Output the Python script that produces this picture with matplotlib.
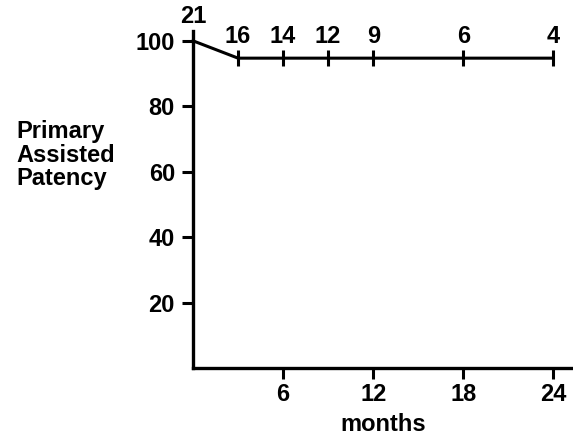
import matplotlib.pyplot as plt

# patency curve (months vs %), number at risk above each point
months = [0, 3, 6, 9, 12, 18, 24]
patency = [100, 94.7, 94.7, 94.7, 94.7, 94.7, 94.7]
at_risk = [21, 16, 14, 12, 9, 6, 4]

xticks = [6, 12, 18, 24]
yticks = [20, 40, 60, 80, 100]

plt.rcParams['font.family'] = ['Liberation Sans', 'DejaVu Sans']
plt.rcParams['font.weight'] = 'bold'
FS = 17

fig = plt.figure(figsize=(5.73, 4.40), dpi=100)
ax = fig.add_axes([193/573, 72/440, 380/573, 337/440])

ax.plot(months, patency, color='black', lw=2.2, clip_on=False)
ax.plot(months[1:], patency[1:], ls='none', marker='|', ms=12, mew=2.2,
        color='black', clip_on=False)
for m, p, n in zip(months, patency, at_risk):
    off = 11 if m > 0 else 13
    ax.annotate(str(n), (m, p), xytext=(0, off), textcoords='offset points',
                ha='center', va='baseline', fontsize=FS, fontweight='bold')

ax.set_xlim(0, 25.3)
ax.set_ylim(0, 103)
ax.set_xticks(xticks)
ax.set_yticks(yticks)
ax.tick_params(axis='both', direction='out', length=8, width=2.2,
               labelsize=FS, pad=5)
ax.tick_params(axis='x', pad=3)
for s in ['top', 'right']:
    ax.spines[s].set_visible(False)
for s in ['left', 'bottom']:
    ax.spines[s].set_linewidth(2.4)

ax.set_xlabel('months', fontsize=FS, fontweight='bold', labelpad=5)
fig.text(16/573, 1 - 155/440, 'Primary\nAssisted\nPatency', ha='left',
         va='center', fontsize=FS, fontweight='bold', linespacing=1.05)

fig.savefig('out.png', dpi=100)
